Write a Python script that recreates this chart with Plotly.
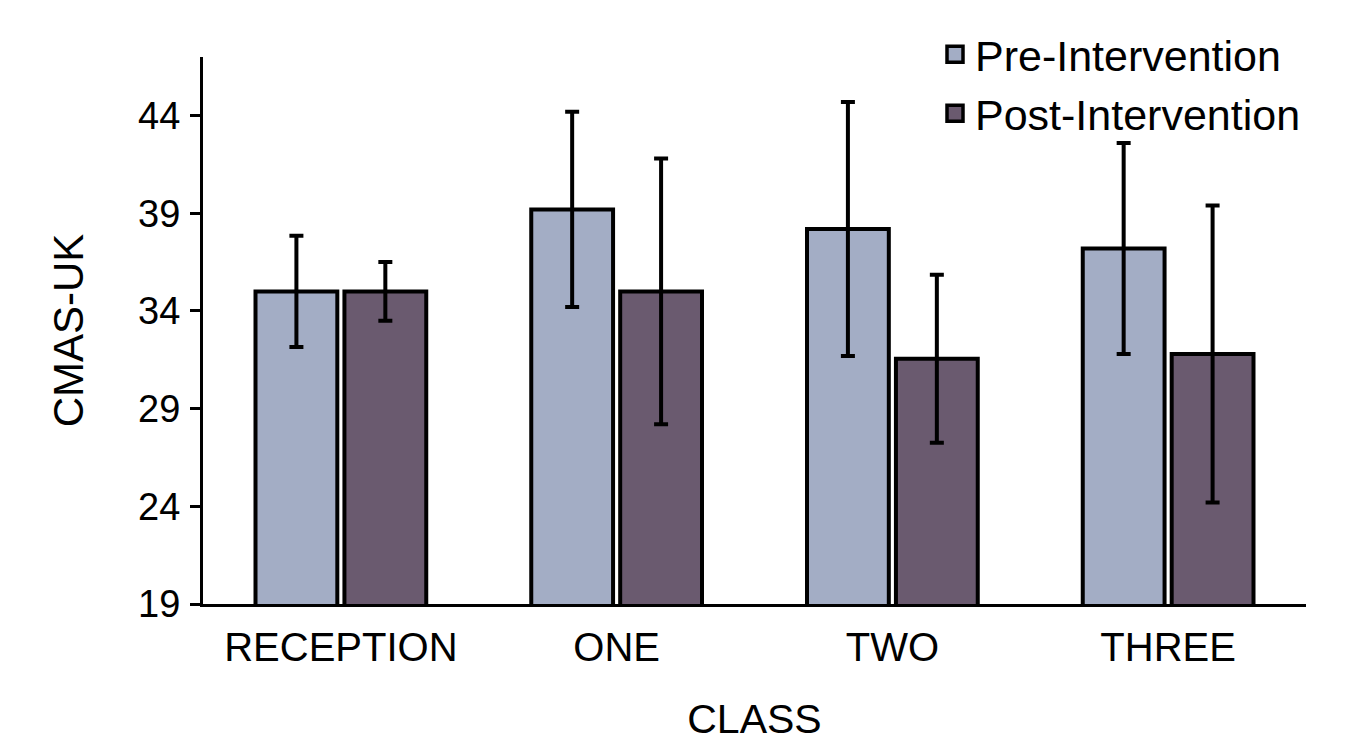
import plotly.graph_objects as go

categories = ["RECEPTION", "ONE", "TWO", "THREE"]
pre_values = [35.0, 39.2, 38.2, 37.2]
pre_errors = [2.85, 5.0, 6.5, 5.4]
post_values = [35.0, 35.0, 31.55, 31.8]
post_errors = [1.5, 6.8, 4.3, 7.6]
y_ticks = [19, 24, 29, 34, 39, 44]
series_names = ["Pre-Intervention", "Post-Intervention"]

PRE_COLOR = "#A3ADC5"
POST_COLOR = "#6A5A6F"
FONT = "Liberation Sans, Arial, Helvetica, sans-serif"

fig = go.Figure()
for name, vals, errs, col in [
    (series_names[0], pre_values, pre_errors, PRE_COLOR),
    (series_names[1], post_values, post_errors, POST_COLOR),
]:
    fig.add_trace(go.Bar(
        x=categories, y=vals, name=name, showlegend=False,
        marker=dict(color=col, line=dict(color="black", width=4)),
        error_y=dict(type="data", array=errs, visible=True,
                     color="black", thickness=4, width=7),
    ))

# legend entries with square swatches
for name, col in [(series_names[0], PRE_COLOR), (series_names[1], POST_COLOR)]:
    fig.add_trace(go.Scatter(
        x=[None], y=[None], mode="markers", name=name,
        marker=dict(symbol="square", size=19, color=col,
                    line=dict(color="black", width=3.5)),
    ))

fig.update_layout(
    width=1355, height=744,
    margin=dict(l=195, r=57, t=42, b=148),
    paper_bgcolor="white", plot_bgcolor="white",
    barmode="group", bargap=0.355, bargroupgap=0.08,
    font=dict(family=FONT, color="black"),
    legend=dict(x=1.0, y=1.068, xanchor="right", yanchor="top",
                font=dict(size=43, family=FONT, color="black"),
                bgcolor="rgba(0,0,0,0)", itemsizing="trace",
                tracegroupgap=0, itemwidth=30),
    xaxis=dict(
        automargin=False,
        showline=True, linecolor="black", linewidth=3,
        ticks="", tickfont=dict(size=40), ticklabelstandoff=6,
        title=dict(text="CLASS", font=dict(size=41), standoff=37),
        showgrid=False, zeroline=False,
    ),
    yaxis=dict(
        automargin=False,
        range=[19, 47], tickvals=y_ticks, ticktext=[str(t) for t in y_ticks],
        showline=True, linecolor="black", linewidth=3,
        ticks="outside", ticklen=10, tickwidth=3, tickcolor="black",
        tickfont=dict(size=38), ticklabelstandoff=2,
        title=dict(text="CMAS-UK", font=dict(size=42), standoff=42),
        showgrid=False, zeroline=False,
    ),
)

fig.write_html("out.html")
